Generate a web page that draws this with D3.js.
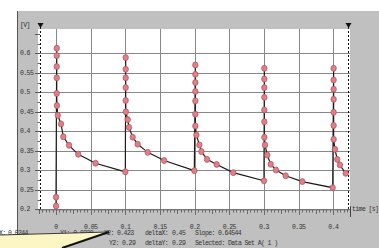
<!DOCTYPE html>
<html><head><meta charset="utf-8">
<script src="https://cdn.jsdelivr.net/npm/d3@7"></script>
<style>html,body{margin:0;padding:0;background:#fff;}svg{display:block;}</style>
</head><body>
<script>
// ---- data ----
const timeS = [0,0,0.001,0.001,0.001,0.001,0.001,0.0013,0.0025,0.0072,0.0105,0.0188,0.032,0.057,0.1,
  0.1005,0.1005,0.1005,0.1005,0.1005,0.1008,0.1034,0.1053,0.1106,0.1178,0.1323,0.156,0.1995,
  0.201,0.201,0.201,0.201,0.201,0.201,0.201,0.2025,0.2068,0.2097,0.2179,0.2318,0.2557,0.3,
  0.3005,0.3005,0.3005,0.3005,0.3005,0.3005,0.3005,0.3015,0.3048,0.3097,0.3173,0.3313,0.3553,0.3991,
  0.4005,0.4005,0.4005,0.4005,0.4005,0.4005,0.4005,0.4024,0.4057,0.4096,0.4178];
const voltV = [0.2085,0.231,0.613,0.594,0.566,0.537,0.497,0.466,0.441,0.419,0.386,0.364,0.341,0.318,0.296,
  0.589,0.559,0.537,0.512,0.479,0.450,0.430,0.410,0.385,0.367,0.346,0.325,0.299,
  0.570,0.546,0.525,0.502,0.478,0.444,0.4136,0.3905,0.365,0.348,0.328,0.315,0.294,0.273,
  0.5615,0.534,0.512,0.487,0.4547,0.4246,0.3846,0.365,0.339,0.3154,0.3008,0.286,0.271,0.2554,
  0.5615,0.5316,0.5077,0.482,0.4487,0.4149,0.3795,0.3538,0.328,0.3136,0.2923];
const xTicks = [0,0.05,0.1,0.15,0.2,0.25,0.3,0.35,0.4];
const xTickLabels = ["0","0.05","0.1","0.15","0.2","0.25","0.3","0.35","0.4"];
const yTicks = [0.2,0.25,0.3,0.35,0.4,0.45,0.5,0.55,0.6];
const yTickLabels = ["0.2","0.25","0.3","0.35","0.4","0.45","0.5","0.55","0.6"];
const cursors = [-0.0224, 0.4216];
const yUnit = "[V]", xUnit = "time [s]";
const infoLine1 = [["X:",-1],["0.0244",8],["Y1:",60],["-0.0228",70],["X2:",104],["0.423",117],["deltaX:",145],["0.45",172],["Slope:",195],["0.64544",218]];
const infoLine2 = [["Y2:",109],["0.29",122],["deltaY:",145],["0.29",172],["Selected: Data Set A( 1 )",195]];

// ---- drawing ----
const W = 379, H = 248;
const svg = d3.select("body").append("svg").attr("width", W).attr("height", H);
const font = "'Liberation Mono', 'DejaVu Sans Mono', monospace";

svg.append("rect").attr("x",17).attr("y",11).attr("width",W-17).attr("height",H-11).attr("fill","#c0c0c0");
svg.append("line").attr("x1",17.5).attr("x2",17.5).attr("y1",11).attr("y2",H).attr("stroke","#555").attr("stroke-width",1);

const x = d3.scaleLinear().domain([-0.026, 0.4241]).range([38, 350]);
const y = d3.scaleLinear().domain([0.2, 0.6623]).range([209.3, 29]);

svg.append("rect").attr("x",38).attr("y",29).attr("width",350-38).attr("height",209.3-29).attr("fill","#fff");

// grid
const g = svg.append("g");
g.selectAll(".vg").data(xTicks).join("line")
  .attr("x1",d=>Math.round(x(d))+0.5).attr("x2",d=>Math.round(x(d))+0.5)
  .attr("y1",29).attr("y2",209.3).attr("stroke","#888").attr("stroke-width",1);
g.selectAll(".hg").data(yTicks).join("line")
  .attr("x1",38).attr("x2",350)
  .attr("y1",d=>Math.round(y(d))+0.5).attr("y2",d=>Math.round(y(d))+0.5)
  .attr("stroke","#888").attr("stroke-width",1);

// x ruler
const ruler = svg.append("g");
ruler.append("line").attr("x1",38).attr("x2",350).attr("y1",209.8).attr("y2",209.8).attr("stroke","#666").attr("stroke-width",0.8);
const rulerTicks = d3.range(-25, 425, 5).map(v => v/1000);
ruler.selectAll("line.rt").data(rulerTicks).join("line")
  .attr("x1",d=>Math.round(x(d))+0.5).attr("x2",d=>Math.round(x(d))+0.5)
  .attr("y1",210)
  .attr("y2",d=>{const k=Math.round(d*1000); return k%50===0?215:(k%25===0?214:212.5);})
  .attr("stroke","#555").attr("stroke-width",0.8);
ruler.append("line").attr("x1",350.5).attr("x2",350.5).attr("y1",206).attr("y2",217).attr("stroke","#444");

// y ticks
const yMinor = d3.range(200, 675, 25).map(v=>v/1000).filter(v=>v<=0.6623);
svg.selectAll("line.yt").data(yMinor).join("line")
  .attr("x1",d=>Math.round(d*1000)%50===0?35:37.5).attr("x2",40)
  .attr("y1",d=>Math.round(y(d))+0.5).attr("y2",d=>Math.round(y(d))+0.5)
  .attr("stroke","#444").attr("stroke-width",0.8);

// tick labels
svg.selectAll("text.yl").data(yTicks).join("text")
  .attr("x",20).attr("y",d=>y(d)+2).text((d,i)=>yTickLabels[i])
  .attr("font-family",font).attr("font-size",6.5).attr("letter-spacing",-0.6).attr("fill","#333");
svg.selectAll("text.xl").data(xTicks).join("text")
  .attr("x",d=>x(d)).attr("y",229).attr("text-anchor","middle").text((d,i)=>xTickLabels[i])
  .attr("font-family",font).attr("font-size",6.5).attr("letter-spacing",-0.6).attr("fill","#333");
svg.append("text").attr("x",20).attr("y",27).text(yUnit)
  .attr("font-family",font).attr("font-size",6.5).attr("letter-spacing",-0.6).attr("fill","#333");
svg.append("text").attr("x",352).attr("y",211).text(xUnit)
  .attr("font-family",font).attr("font-size",6.5).attr("letter-spacing",-0.6).attr("fill","#333");

// cursors
cursors.forEach(c=>{
  const cx = Math.round(x(c))+0.5;
  svg.append("line").attr("x1",cx).attr("x2",cx).attr("y1",27).attr("y2",209.3)
    .attr("stroke","#111").attr("stroke-width",1).attr("stroke-dasharray","2,2");
  svg.append("path").attr("d",`M${cx-3},23 L${cx+3},23 L${cx},28 Z`).attr("fill","#111");
});

// data line + markers
const pts = timeS.map((t,i)=>[t, voltV[i]]);
svg.append("path").datum(pts)
  .attr("d", d3.line().x(d=>x(d[0])).y(d=>y(d[1])))
  .attr("fill","none").attr("stroke","#1a1a1a").attr("stroke-width",1.2);
svg.selectAll("ellipse.m").data(pts).join("ellipse")
  .attr("cx",d=>x(d[0])).attr("cy",d=>y(d[1])).attr("rx",2.7).attr("ry",3)
  .attr("fill","#e57d84").attr("stroke","#a8505a").attr("stroke-width",0.7);

// info text
const info = svg.append("g").attr("font-family",font).attr("font-size",6.5).attr("letter-spacing",-0.6).attr("fill","#333");
info.selectAll("text.l1").data(infoLine1).join("text").attr("x",d=>d[1]).attr("y",235).text(d=>d[0]);
info.selectAll("text.l2").data(infoLine2).join("text").attr("x",d=>d[1]).attr("y",245).text(d=>d[0]);

// callout
svg.append("path").attr("d","M0,235 L109,232 L62,248 L0,248 Z").attr("fill","#fcf5c4");
svg.append("line").attr("x1",0).attr("y1",235).attr("x2",109).attr("y2",232).attr("stroke","#111").attr("stroke-width",0.8);
svg.append("line").attr("x1",62).attr("y1",248).attr("x2",109).attr("y2",232).attr("stroke","#111").attr("stroke-width",2);
</script>
</body></html>
